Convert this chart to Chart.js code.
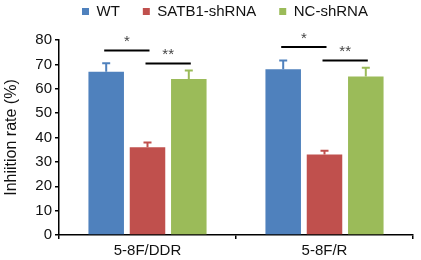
<!doctype html>
<html lang="en">
<head>
<meta charset="utf-8">
<title>Inhibition rate</title>
<script src="https://cdn.jsdelivr.net/npm/chart.js"></script>
<style>
html, body { margin: 0; padding: 0; background: white; }
#wrap { width: 421px; height: 260px; }
</style>
</head>
<body>
<div id="wrap"><canvas id="chart"></canvas></div>
<script>
// Données
const categories = ['5-8F/DDR', '5-8F/R'];
const seriesNames = ['WT', 'SATB1-shRNA', 'NC-shRNA'];
const wtValues = [67, 68];
const satbValues = [36, 33];
const ncValues = [64, 65];
const wtErr = [3.5, 3.6];
const satbErr = [2, 1.6];
const ncErr = [3.5, 3.6];
const yTicks = [0, 10, 20, 30, 40, 50, 60, 70, 80];

// Barres de significativité : groupe, barre de départ, barre d'arrivée, hauteur, texte
const sigGroup = [0, 0, 1, 1];
const sigFrom = [0, 1, 0, 1];
const sigTo = [1, 2, 1, 2];
const sigLevel = [75.7, 70.4, 77.1, 71.6];
const sigText = ['*', '**', '*', '**'];

const colors = ['#4F81BD', '#C0504D', '#9BBB59'];
const errors = [wtErr, satbErr, ncErr];

// Plugin : barres d'erreur + annotations + légende plus compacte
const extras = {
  id: 'extras',
  afterInit(chart) {
    const lg = chart.legend;
    const fit = lg.fit.bind(lg);
    lg.fit = function() { fit(); this.height = 59; };
  },
  afterDatasetsDraw(chart) {
    const ctx = chart.ctx;
    const y = chart.scales.y;
    ctx.save();
    chart.data.datasets.forEach((ds, i) => {
      const meta = chart.getDatasetMeta(i);
      meta.data.forEach((bar, j) => {
        const top = y.getPixelForValue(ds.data[j] + errors[i][j]);
        ctx.strokeStyle = colors[i];
        ctx.lineWidth = 2;
        ctx.beginPath();
        ctx.moveTo(bar.x, bar.y);
        ctx.lineTo(bar.x, top);
        ctx.moveTo(bar.x - 4, top);
        ctx.lineTo(bar.x + 4, top);
        ctx.stroke();
      });
    });
    ctx.strokeStyle = '#000';
    ctx.fillStyle = '#444';
    ctx.lineWidth = 2;
    ctx.font = '15px "Liberation Sans", Arial, sans-serif';
    ctx.textAlign = 'center';
    ctx.textBaseline = 'bottom';
    sigGroup.forEach((g, k) => {
      const x1 = chart.getDatasetMeta(sigFrom[k]).data[g].x - 2;
      const x2 = chart.getDatasetMeta(sigTo[k]).data[g].x + 2;
      const yy = y.getPixelForValue(sigLevel[k]);
      ctx.beginPath();
      ctx.moveTo(x1, yy);
      ctx.lineTo(x2, yy);
      ctx.stroke();
      ctx.fillText(sigText[k], (x1 + x2) / 2, yy - 1);
    });
    ctx.restore();
  }
};

Chart.defaults.font.family = '"Liberation Sans", Arial, sans-serif';
Chart.defaults.color = '#111';

new Chart(document.getElementById('chart'), {
  type: 'bar',
  data: {
    labels: categories,
    datasets: seriesNames.map((name, i) => ({
      label: name,
      data: [wtValues, satbValues, ncValues][i],
      backgroundColor: colors[i],
      categoryPercentage: 0.7,
      barPercentage: 0.86
    }))
  },
  options: {
    responsive: true,
    maintainAspectRatio: false,
    animation: false,
    devicePixelRatio: 1,
    layout: { padding: { left: 2, right: 8, top: -19, bottom: -3 } },
    scales: {
      x: {
        grid: { display: true, drawOnChartArea: false, offset: true, color: '#000', tickLength: 4, lineWidth: 1.5 },
        border: { color: '#000', width: 1.5 },
        ticks: { font: { size: 15 }, color: '#111', padding: 3 }
      },
      y: {
        min: 0,
        max: 80,
        afterBuildTicks(scale) { scale.ticks = yTicks.map(v => ({ value: v })); },
        afterFit(scale) { scale.width = 57; },
        grid: { display: true, drawOnChartArea: false, color: '#000', tickLength: 4, lineWidth: 1.5 },
        border: { color: '#000', width: 1.5 },
        ticks: { font: { size: 15 }, color: '#111', padding: 3 },
        title: { display: true, text: 'Inhiition rate (%)', font: { size: 16 }, color: '#111', padding: 0 }
      }
    },
    plugins: {
      legend: {
        position: 'top',
        fullSize: false,
        align: 'start',
        labels: { boxWidth: 7, boxHeight: 7, font: { size: 15 }, color: '#111', padding: 23 }
      },
      tooltip: { enabled: false }
    }
  },
  plugins: [extras]
});
</script>
</body>
</html>
